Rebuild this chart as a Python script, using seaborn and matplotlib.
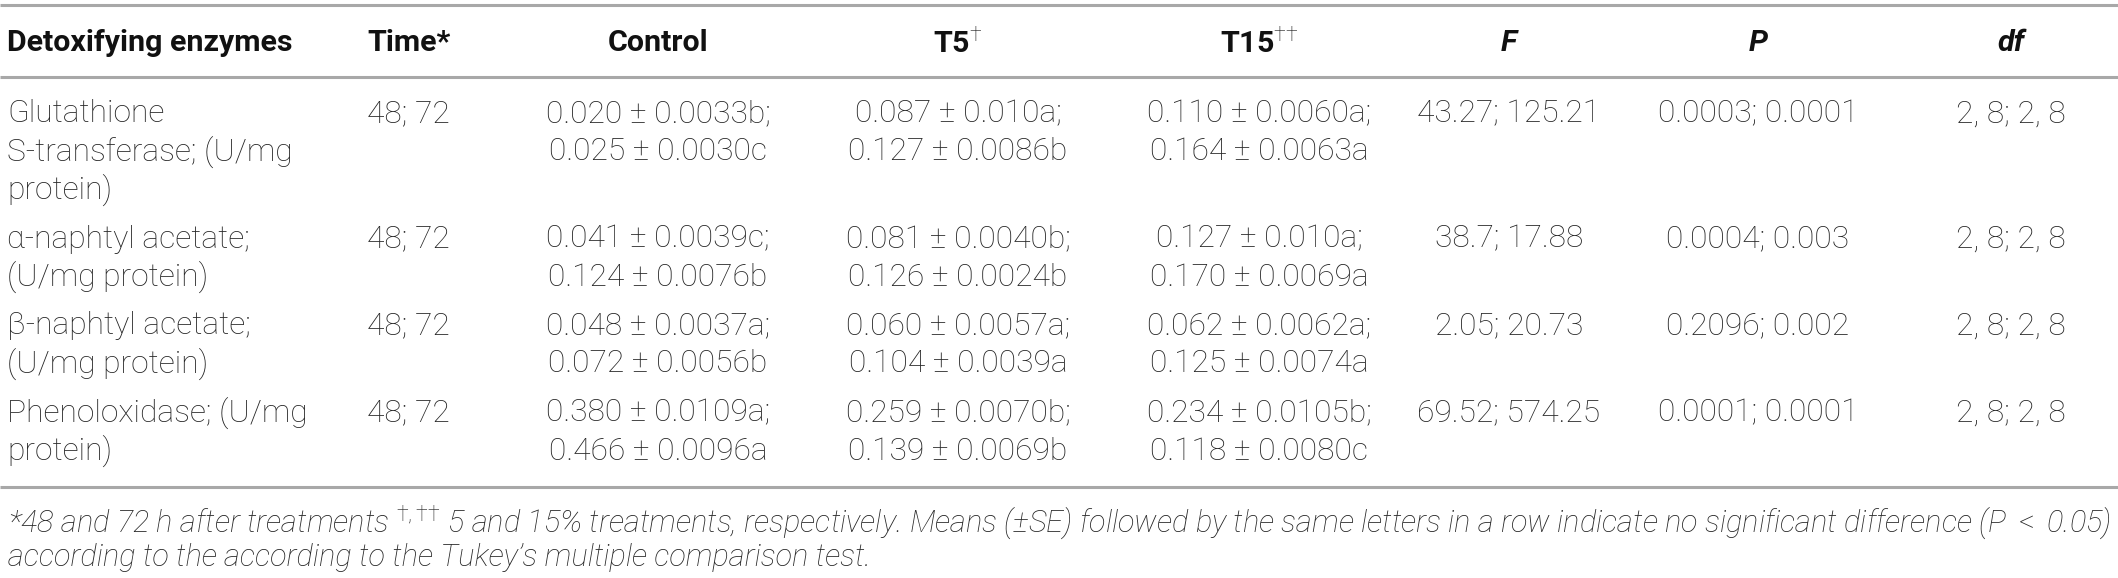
import matplotlib
matplotlib.use('Agg')
import matplotlib.pyplot as plt
import seaborn as sns

# table content
headers = ['Detoxifying enzymes', 'Time*', 'Control', r'T5$^{†}$',
           r'T15$^{††}$', 'F', 'P', 'df']
enzymes = [['Glutathione', 'S-transferase; (U/mg', 'protein)'],
           ['α-naphtyl acetate;', '(U/mg protein)'],
           ['β-naphtyl acetate;', '(U/mg protein)'],
           ['Phenoloxidase; (U/mg', 'protein)']]
times = ['48; 72', '48; 72', '48; 72', '48; 72']
control = [['0.020 ± 0.0033b;', '0.025 ± 0.0030c'],
           ['0.041 ± 0.0039c;', '0.124 ± 0.0076b'],
           ['0.048 ± 0.0037a;', '0.072 ± 0.0056b'],
           ['0.380 ± 0.0109a;', '0.466 ± 0.0096a']]
t5 = [['0.087 ± 0.010a;', '0.127 ± 0.0086b'],
      ['0.081 ± 0.0040b;', '0.126 ± 0.0024b'],
      ['0.060 ± 0.0057a;', '0.104 ± 0.0039a'],
      ['0.259 ± 0.0070b;', '0.139 ± 0.0069b']]
t15 = [['0.110 ± 0.0060a;', '0.164 ± 0.0063a'],
       ['0.127 ± 0.010a;', '0.170 ± 0.0069a'],
       ['0.062 ± 0.0062a;', '0.125 ± 0.0074a'],
       ['0.234 ± 0.0105b;', '0.118 ± 0.0080c']]
f_vals = ['43.27; 125.21', '38.7; 17.88', '2.05; 20.73', '69.52; 574.25']
p_vals = ['0.0003; 0.0001', '0.0004; 0.003', '0.2096; 0.002', '0.0001; 0.0001']
df_vals = ['2, 8; 2, 8', '2, 8; 2, 8', '2, 8; 2, 8', '2, 8; 2, 8']
footnote = [r'*48 and 72 h after treatments ${}^{†,††}$ 5 and 15% treatments, '
            r'respectively. Means (±SE) followed by the same letters in a row indicate no '
            r'significant difference (P $<$ 0.05)',
            "according to the according to the Tukey’s multiple comparison test."]

sns.set_theme(style='white')
plt.rcParams['font.family'] = ['Roboto', 'DejaVu Sans']
plt.rcParams['mathtext.fontset'] = 'custom'
plt.rcParams['mathtext.rm'] = 'Roboto:light'
plt.rcParams['mathtext.it'] = 'Roboto:italic:light'
plt.rcParams['mathtext.bf'] = 'Roboto:bold'

W, H = 2118, 578
fig = plt.figure(figsize=(W / 100, H / 100), dpi=100)
ax = fig.add_axes([0, 0, 1, 1])
ax.set_xlim(0, W)
ax.set_ylim(H, 0)
ax.axis('off')
renderer = fig.canvas.get_renderer()


def fit_size(s, target_w, **kw):
    # font size that makes string s about target_w pixels wide
    t = ax.text(0, 0, s, fontsize=20, **kw)
    w = t.get_window_extent(renderer=renderer).width
    t.remove()
    return 20 * target_w / w


body_kw = dict(fontweight='light')
head_kw = dict(fontweight='bold')
foot_kw = dict(fontweight='light', fontstyle='italic')
fs_body = fit_size(control[0][0], 225, **body_kw)
fs_head = fit_size(headers[0], 286, **head_kw)
fs_foot = fit_size(footnote[0], 2104, **foot_kw)

ink = '#262626'
rule = '#a8a8a8'

# column anchors (x, alignment)
cols = [(7, 'left'), (367, 'left'), (658, 'center'), (958, 'center'),
        (1259, 'center'), (1509, 'center'), (1758, 'center'), (2011, 'center')]

# rules
for y in [5, 77, 487]:
    ax.plot([0, W], [y, y], color=rule, lw=2.2, solid_capstyle='butt')

# header
for i, h in enumerate(headers):
    x, ha = cols[i]
    style = 'italic' if h in ('F', 'P', 'df') else 'normal'
    ax.text(x, 43, h, ha=ha, va='center', fontsize=fs_head, fontstyle=style,
            color='#111111', **head_kw)

# body
line_gap = 38
row_gap = 49
y = 114
for r in range(len(enzymes)):
    cells = [enzymes[r], [times[r]], control[r], t5[r], t15[r],
             [f_vals[r]], [p_vals[r]], [df_vals[r]]]
    for c, lines in enumerate(cells):
        x, ha = cols[c]
        for k, s in enumerate(lines):
            ax.text(x, y + k * line_gap, s, ha=ha, va='center',
                    fontsize=fs_body, color=ink, **body_kw)
    n = max(len(cl) for cl in cells)
    y += (n - 1) * line_gap + row_gap

# footnote
ax.text(8, 522, footnote[0], ha='left', va='center', fontsize=fs_foot,
        color=ink, **foot_kw)
ax.text(8, 557, footnote[1], ha='left', va='center', fontsize=fs_foot,
        color=ink, **foot_kw)

fig.savefig('out.png', dpi=100)
